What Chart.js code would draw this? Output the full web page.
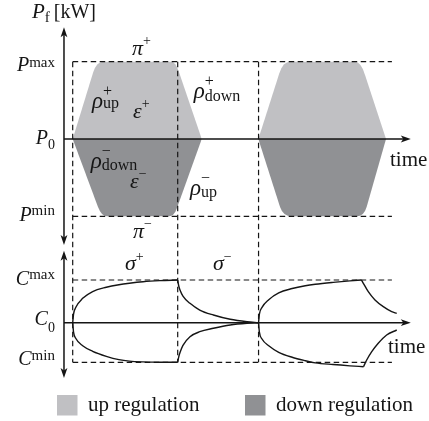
<!DOCTYPE html>
<html>
<head>
<meta charset="utf-8">
<script src="https://cdn.jsdelivr.net/npm/chart.js@4.4.1/dist/chart.umd.min.js"></script>
<style>
  html, body { margin: 0; padding: 0; background: #fff; }
</style>
</head>
<body>
<canvas id="chart" width="429" height="421"></canvas>
<script>
// Esquema de regulación: potencia P_f arriba, capacidad C abajo.
// Tiempo en unidades arbitrarias: las guías verticales caen en 0, 100 y 177.

const GUIDE_TIMES = [0, 100, 177];
const POWER_LEVELS = [1, 0, -1];          // P^max, P_0, P^min
const CAP_LEVELS = [1, 0, -0.927];        // C^max, C_0, C^min
const LEVEL_SPAN = [0, 304];              // largo de las líneas discontinuas
const LEGEND_LABELS = ['up regulation', 'down regulation'];

// regulación hacia arriba / abajo (dos bloques, esquinas redondeadas)
const upTime1 = [0, 19.3, 21.1, 23.4, 25.9, 28.9, 93.6, 95.7, 97.7, 99.5, 101.2, 122.9];
const upPower1 = [0, 0.855, 0.918, 0.964, 0.991, 1, 1, 0.992, 0.967, 0.926, 0.868, 0];
const downTime1 = [0, 24.1, 25.9, 27.9, 30.2, 32.7, 91.7, 94.0, 96.0, 97.8, 99.3, 122.9];
const downPower1 = [0, -0.881, -0.933, -0.970, -0.993, -1, -1, -0.993, -0.974, -0.940, -0.894, 0];
const upTime2 = [176.8, 196.8, 198.8, 201.1, 203.9, 207.0, 268.9, 271.5, 274.0, 276.3, 278.4, 298.4];
const upPower2 = [0, 0.851, 0.916, 0.963, 0.991, 1, 1, 0.989, 0.957, 0.904, 0.829, 0];
const downTime2 = [176.8, 197.4, 199.2, 201.7, 204.8, 208.6, 270.5, 273.7, 276.3, 278.4, 280.0, 298.4];
const downPower2 = [0, -0.877, -0.931, -0.969, -0.992, -1, -1, -0.992, -0.969, -0.931, -0.877, 0];

// curvas de capacidad
const riseTime1 = [0, 0.8, 3, 9.5, 19, 32, 44, 54, 67, 83, 100];
const riseHigh1 = [0, 0.2, 0.36, 0.57, 0.73, 0.83, 0.89, 0.925, 0.96, 0.985, 1];
const riseLow1 = [0, -0.22, -0.37, -0.54, -0.67, -0.787, -0.865, -0.9, -0.918, -0.925, -0.927];
const fallTime1 = [100, 101, 102.2, 105, 111.7, 121, 134, 150, 166, 177];
const fallHigh1 = [1, 0.86, 0.766, 0.62, 0.454, 0.297, 0.18, 0.08, 0.023, 0];
const fallLow1 = [-0.927, -0.8, -0.70, -0.53, -0.328, -0.211, -0.131, -0.054, -0.014, 0];
const riseTimeHigh2 = [177, 177.8, 180.3, 186.7, 196.2, 209, 221.5, 231, 248, 264, 275];
const riseHigh2 = [0, 0.2, 0.36, 0.54, 0.70, 0.80, 0.865, 0.9, 0.945, 0.98, 1];
const riseTimeLow2 = [177, 177.8, 180.3, 186.7, 196.2, 209, 221.5, 231, 248, 264, 277];
const riseLow2 = [0, -0.22, -0.382, -0.539, -0.693, -0.81, -0.89, -0.94, -0.98, -1.01, -1.03];
const fallTimeHigh2 = [275, 276.8, 281.5, 287.9, 295.8, 303.8, 308.6];
const fallHigh2 = [1, 0.923, 0.726, 0.532, 0.375, 0.258, 0.22];
const fallTimeLow2 = [277, 280, 284.8, 291, 299, 308.6];
const fallLow2 = [-1.03, -0.874, -0.679, -0.482, -0.288, -0.171];

// ejes
const AXIS_TIME = -8.3;
const AXIS_END_TIME = 322;
const POWER_AXIS_SPAN = [-1.371, 1.445];
const CAP_AXIS_SPAN = [-1.295, 1.686];

// ---- aspecto ----
const LIGHT = '#c0c0c3';
const DARK = '#909194';
const INK = '#151515';
const DASH = [5.5, 3.5];
const SERIF = '"Liberation Serif", "DejaVu Serif", serif';

// el área del gráfico ocupa 0..380 px; debajo va la leyenda
const AREA_H = 380;
function rangeFor(zeroPx, unitPx) {
    return { min: -(AREA_H - zeroPx) / unitPx, max: zeroPx / unitPx };
}
const xRange = { min: -72.7 / 1.05, max: (429 - 72.7) / 1.05 };
const pRange = rangeFor(139, 77.3);
const cRange = rangeFor(322.7, 42.7);

function pts(xs, ys) {
    return xs.map((x, i) => ({ x: x, y: ys[i] }));
}

function curve(xs, ys) {
    return {
        data: pts(xs, ys), yAxisID: 'yC', borderColor: INK, borderWidth: 1.4,
        cubicInterpolationMode: 'monotone', fill: false
    };
}

function level(value, axis) {
    return {
        data: pts(LEVEL_SPAN, [value, value]), yAxisID: axis, borderColor: INK,
        borderWidth: 1.2, borderDash: DASH, fill: false
    };
}

function block(label, xs, ys, color) {
    return {
        label: label, data: pts(xs, ys), yAxisID: 'yP', borderColor: 'rgba(0,0,0,0)',
        borderWidth: 0, backgroundColor: color, fill: { value: 0 }, tension: 0
    };
}

const datasets = [
    curve(riseTime1, riseHigh1), curve(riseTime1, riseLow1),
    curve(fallTime1, fallHigh1), curve(fallTime1, fallLow1),
    curve(riseTimeHigh2, riseHigh2), curve(riseTimeLow2, riseLow2),
    curve(fallTimeHigh2, fallHigh2), curve(fallTimeLow2, fallLow2),
    level(POWER_LEVELS[0], 'yP'), level(POWER_LEVELS[2], 'yP'),
    level(CAP_LEVELS[0], 'yC'), level(CAP_LEVELS[2], 'yC'),
    block(LEGEND_LABELS[0], upTime1, upPower1, LIGHT),
    block(LEGEND_LABELS[1], downTime1, downPower1, DARK),
    block(LEGEND_LABELS[0], upTime2, upPower2, LIGHT),
    block(LEGEND_LABELS[1], downTime2, downPower2, DARK)
];

// texto con super/subíndices: base en cursiva, índices en redonda
function mathText(ctx, x, y, base, sup, sub, o) {
    o = Object.assign({ size: 20, small: 14, rise: 6, drop: 4, align: 'left', italic: true }, o);
    ctx.font = (o.italic ? 'italic ' : '') + o.size + 'px ' + SERIF;
    const bw = ctx.measureText(base).width;
    ctx.font = o.small + 'px ' + SERIF;
    const supW = sup ? ctx.measureText(sup).width : 0;
    const subW = sub ? ctx.measureText(sub).width : 0;
    const total = bw + Math.max(supW, subW);
    const x0 = o.align === 'right' ? x - total : x;
    ctx.textAlign = 'left';
    ctx.textBaseline = 'alphabetic';
    ctx.font = (o.italic ? 'italic ' : '') + o.size + 'px ' + SERIF;
    ctx.fillText(base, x0, y);
    ctx.font = o.small + 'px ' + SERIF;
    if (sup) ctx.fillText(sup, x0 + bw, y - o.rise);
    if (sub) ctx.fillText(sub, x0 + bw, y + o.drop);
}

function arrowHead(ctx, x, y, dx, dy) {
    const len = 10, half = 3.4;
    const px = -dy, py = dx;
    ctx.beginPath();
    ctx.moveTo(x, y);
    ctx.lineTo(x - dx * len + px * half, y - dy * len + py * half);
    ctx.lineTo(x - dx * len * 0.75, y - dy * len * 0.75);
    ctx.lineTo(x - dx * len - px * half, y - dy * len - py * half);
    ctx.closePath();
    ctx.fill();
}

const schemePlugin = {
    id: 'scheme',
    afterDatasetsDraw(chart) {
        const { ctx } = chart;
        const { x, yP, yC } = chart.scales;
        ctx.save();
        ctx.strokeStyle = INK;
        ctx.fillStyle = INK;

        // guías verticales discontinuas (cruzan ambos paneles)
        ctx.lineWidth = 1.2;
        ctx.setLineDash(DASH);
        GUIDE_TIMES.forEach(t => {
            const px = x.getPixelForValue(t);
            ctx.beginPath();
            ctx.moveTo(px, yP.getPixelForValue(POWER_LEVELS[0]));
            ctx.lineTo(px, yC.getPixelForValue(CAP_LEVELS[2]));
            ctx.stroke();
        });
        ctx.setLineDash([]);

        // ejes con flechas
        ctx.lineWidth = 1.5;
        const ax = x.getPixelForValue(AXIS_TIME);
        const axEnd = x.getPixelForValue(AXIS_END_TIME);
        [[yP, POWER_AXIS_SPAN], [yC, CAP_AXIS_SPAN]].forEach(([s, span]) => {
            const yTop = s.getPixelForValue(span[1]);
            const yBot = s.getPixelForValue(span[0]);
            const y0 = s.getPixelForValue(0);
            ctx.beginPath();
            ctx.moveTo(ax, yBot - 6); ctx.lineTo(ax, yTop + 6);
            ctx.moveTo(ax, y0); ctx.lineTo(axEnd - 6, y0);
            ctx.stroke();
            arrowHead(ctx, ax, yTop, 0, -1);
            arrowHead(ctx, ax, yBot, 0, 1);
            arrowHead(ctx, axEnd, y0, 1, 0);
        });

        // etiquetas de niveles
        const lx = x.getPixelForValue(-16.9);
        mathText(ctx, lx, yP.getPixelForValue(POWER_LEVELS[0]) + 9.5, 'P', 'max', null, { align: 'right', small: 15, rise: 4 });
        mathText(ctx, lx, yP.getPixelForValue(POWER_LEVELS[1]) + 4.5, 'P', null, '0', { align: 'right', small: 14, drop: 5 });
        mathText(ctx, lx, yP.getPixelForValue(POWER_LEVELS[2]) + 5, 'P', 'min', null, { align: 'right', small: 15, rise: 6 });
        mathText(ctx, lx, yC.getPixelForValue(CAP_LEVELS[0]) + 5, 'C', 'max', null, { align: 'right', small: 15, rise: 6.5 });
        mathText(ctx, lx, yC.getPixelForValue(CAP_LEVELS[1]) + 2.5, 'C', null, '0', { align: 'right', small: 14, drop: 6.5 });
        mathText(ctx, lx, yC.getPixelForValue(CAP_LEVELS[2]) + 2.7, 'C', 'min', null, { align: 'right', small: 15, rise: 5 });

        // título del eje vertical
        mathText(ctx, x.getPixelForValue(-38.8), yP.getPixelForValue(1.561), 'P', null, 'f', { size: 21, small: 15, drop: 3.4 });
        ctx.font = '20px ' + SERIF;
        ctx.fillText('[kW]', x.getPixelForValue(-18), yP.getPixelForValue(1.561));

        // "time"
        ctx.font = '21px ' + SERIF;
        ctx.fillText('time', x.getPixelForValue(302.2), yP.getPixelForValue(-0.349));
        ctx.fillText('time', x.getPixelForValue(300.3), yC.getPixelForValue(-0.703));

        // símbolos dentro del esquema
        const g = { size: 23, small: 16, rise: 12, drop: 0 };
        const at = (t, v, s) => [x.getPixelForValue(t), s.getPixelForValue(v)];
        let p;
        p = at(56.5, 1.087, yP); mathText(ctx, p[0], p[1], 'π', '+', null, { size: 22, small: 14, rise: 10 });
        p = at(57.4, -1.281, yP); mathText(ctx, p[0], p[1], 'π', '\u2212', null, { size: 22, small: 14, rise: 10 });
        p = at(18.4, 0.401, yP); mathText(ctx, p[0], p[1], 'ρ', '+', 'up', g);
        p = at(57.4, 0.272, yP); mathText(ctx, p[0], p[1], 'ε', '+', null, { size: 22, small: 14, rise: 10 });
        p = at(115.2, 0.524, yP); mathText(ctx, p[0], p[1], 'ρ', '+', 'down', Object.assign({}, g, { drop: 2.5 }));
        p = at(17.1, -0.369, yP); mathText(ctx, p[0], p[1], 'ρ', '\u2212', 'down', Object.assign({}, g, { drop: 2.5 }));
        p = at(54.6, -0.634, yP); mathText(ctx, p[0], p[1], 'ε', '\u2212', null, { size: 22, small: 14, rise: 10 });
        p = at(111.7, -0.724, yP); mathText(ctx, p[0], p[1], 'ρ', '\u2212', 'up', Object.assign({}, g, { drop: 2 }));
        p = at(49.8, 1.234, yC); mathText(ctx, p[0], p[1], 'σ', '+', null, { size: 22, small: 14, rise: 9 });
        p = at(133.6, 1.234, yC); mathText(ctx, p[0], p[1], 'σ', '\u2212', null, { size: 22, small: 14, rise: 9 });

        // leyenda
        const boxX = [57, 245];
        ctx.font = '21px ' + SERIF;
        LEGEND_LABELS.forEach((label, i) => {
            const ds = chart.data.datasets.find(d => d.label === label);
            ctx.fillStyle = ds.backgroundColor;
            ctx.fillRect(boxX[i], 395, 20.5, 20.5);
            ctx.fillStyle = INK;
            ctx.fillText(label, boxX[i] + 31, 411);
        });
        ctx.restore();
    }
};

new Chart(document.getElementById('chart'), {
    type: 'line',
    data: { datasets: datasets },
    options: {
        responsive: false,
        animation: false,
        events: [],
        layout: { padding: { top: 0, left: 0, right: 0, bottom: 421 - AREA_H } },
        elements: { point: { radius: 0 }, line: { tension: 0 } },
        plugins: { legend: { display: false }, tooltip: { enabled: false } },
        scales: {
            x: { type: 'linear', display: false, min: xRange.min, max: xRange.max },
            yP: { type: 'linear', display: false, min: pRange.min, max: pRange.max },
            yC: { type: 'linear', display: false, min: cRange.min, max: cRange.max }
        }
    },
    plugins: [schemePlugin]
});
</script>
</body>
</html>
